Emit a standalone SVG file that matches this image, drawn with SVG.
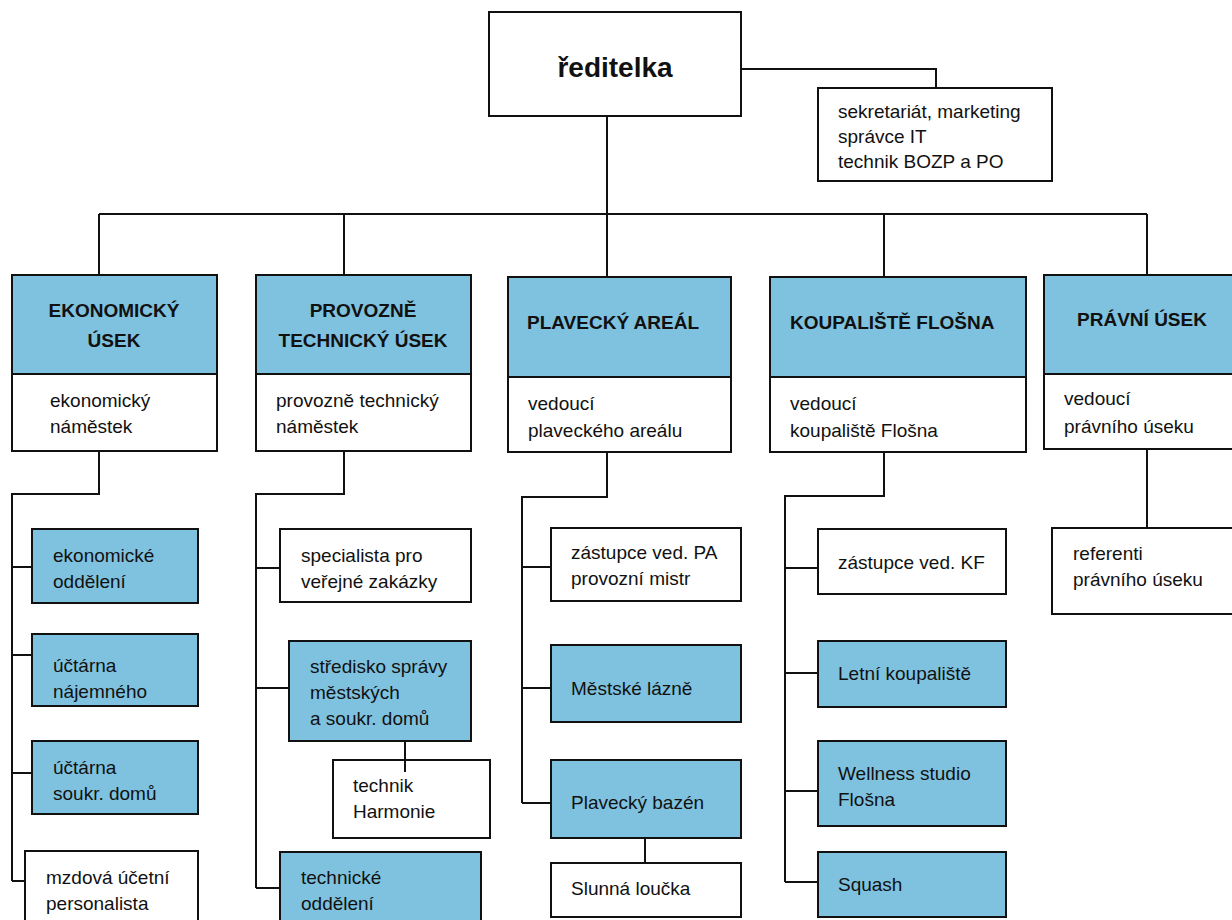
<svg xmlns="http://www.w3.org/2000/svg" width="1232" height="920" viewBox="0 0 1232 920">
<style>
.box{fill:#fff;stroke:#111;stroke-width:2}
.blue{fill:#7fc2df;stroke:#111;stroke-width:2}
.t{font-family:"Liberation Sans",Arial,sans-serif;font-size:19px;fill:#111}
.h{font-family:"Liberation Sans",Arial,sans-serif;font-size:19px;font-weight:bold;fill:#111}
.c{text-anchor:middle}
#connectors path{fill:none;stroke:#111;stroke-width:2}
</style>
<rect width="1232" height="920" fill="#fff"/>
<g id="reditelka">
<rect class="box" x="489" y="12" width="252" height="104"/>
<text class="h c" x="615" y="77" style="font-size:28px">ředitelka</text>
</g>
<g id="sekretariat">
<rect class="box" x="818" y="88" width="234" height="93"/>
<text class="t" x="838" y="118">sekretariát, marketing</text>
<text class="t" x="838" y="143">správce IT</text>
<text class="t" x="838" y="168">technik BOZP a PO</text>
</g>
<g id="ekonomicky-usek">
<rect class="blue" x="12" y="275" width="205" height="99"/>
<rect class="box" x="12" y="374" width="205" height="77"/>
<text class="h c" x="114" y="317">EKONOMICKÝ</text>
<text class="h c" x="114" y="347">ÚSEK</text>
<text class="t" x="50" y="407">ekonomický</text>
<text class="t" x="50" y="433">náměstek</text>
</g>
<g id="provozne-technicky-usek">
<rect class="blue" x="256" y="275" width="215" height="99"/>
<rect class="box" x="256" y="374" width="215" height="77"/>
<text class="h c" x="363" y="317">PROVOZNĚ</text>
<text class="h c" x="363" y="347">TECHNICKÝ ÚSEK</text>
<text class="t" x="276" y="407">provozně technický</text>
<text class="t" x="276" y="433">náměstek</text>
</g>
<g id="plavecky-areal">
<rect class="blue" x="508" y="277" width="223" height="100"/>
<rect class="box" x="508" y="377" width="223" height="75"/>
<text class="h" x="527" y="329">PLAVECKÝ AREÁL</text>
<text class="t" x="528" y="410">vedoucí</text>
<text class="t" x="528" y="437">plaveckého areálu</text>
</g>
<g id="koupaliste-flosna">
<rect class="blue" x="770" y="277" width="256" height="100"/>
<rect class="box" x="770" y="377" width="256" height="75"/>
<text class="h" x="790" y="329">KOUPALIŠTĚ FLOŠNA</text>
<text class="t" x="790" y="410">vedoucí</text>
<text class="t" x="790" y="437">koupaliště Flošna</text>
</g>
<g id="pravni-usek">
<rect class="blue" x="1044" y="275" width="200" height="99"/>
<rect class="box" x="1044" y="374" width="200" height="75"/>
<text class="h c" x="1142" y="326">PRÁVNÍ ÚSEK</text>
<text class="t" x="1064" y="405">vedoucí</text>
<text class="t" x="1064" y="433">právního úseku</text>
</g>
<g id="ekonomicke-oddeleni">
<rect class="blue" x="32" y="529" width="166" height="74"/>
<text class="t" x="53" y="562">ekonomické</text>
<text class="t" x="53" y="588">oddělení</text>
</g>
<g id="uctarna-najemneho">
<rect class="blue" x="32" y="634" width="166" height="72"/>
<text class="t" x="53" y="672">účtárna</text>
<text class="t" x="53" y="698">nájemného</text>
</g>
<g id="uctarna-soukr-domu">
<rect class="blue" x="32" y="741" width="166" height="73"/>
<text class="t" x="53" y="774">účtárna</text>
<text class="t" x="53" y="800">soukr. domů</text>
</g>
<g id="mzdova-ucetni">
<rect class="box" x="25" y="851" width="173" height="80"/>
<text class="t" x="46" y="884">mzdová účetní</text>
<text class="t" x="46" y="910">personalista</text>
</g>
<g id="specialista">
<rect class="box" x="280" y="529" width="191" height="73"/>
<text class="t" x="301" y="562">specialista pro</text>
<text class="t" x="301" y="588">veřejné zakázky</text>
</g>
<g id="stredisko-spravy">
<rect class="blue" x="289" y="641" width="182" height="100"/>
<text class="t" x="310" y="673">středisko správy</text>
<text class="t" x="310" y="699">městských</text>
<text class="t" x="310" y="725">a soukr. domů</text>
</g>
<g id="technik-harmonie">
<rect class="box" x="333" y="760" width="157" height="78"/>
<text class="t" x="353" y="792">technik</text>
<text class="t" x="353" y="818">Harmonie</text>
</g>
<g id="technicke-oddeleni">
<rect class="blue" x="280" y="852" width="201" height="80"/>
<text class="t" x="301" y="884">technické</text>
<text class="t" x="301" y="910">oddělení</text>
</g>
<g id="zastupce-pa">
<rect class="box" x="551" y="528" width="190" height="73"/>
<text class="t" x="571" y="559">zástupce ved. PA</text>
<text class="t" x="571" y="585">provozní mistr</text>
</g>
<g id="mestske-lazne">
<rect class="blue" x="551" y="645" width="190" height="77"/>
<text class="t" x="571" y="695">Městské lázně</text>
</g>
<g id="plavecky-bazen">
<rect class="blue" x="551" y="760" width="190" height="78"/>
<text class="t" x="571" y="809">Plavecký bazén</text>
</g>
<g id="slunna-loucka">
<rect class="box" x="551" y="863" width="190" height="54"/>
<text class="t" x="571" y="895">Slunná loučka</text>
</g>
<g id="zastupce-kf">
<rect class="box" x="818" y="529" width="188" height="65"/>
<text class="t" x="838" y="569">zástupce ved. KF</text>
</g>
<g id="letni-koupaliste">
<rect class="blue" x="818" y="641" width="188" height="66"/>
<text class="t" x="838" y="680">Letní koupaliště</text>
</g>
<g id="wellness">
<rect class="blue" x="818" y="741" width="188" height="85"/>
<text class="t" x="838" y="780">Wellness studio</text>
<text class="t" x="838" y="806">Flošna</text>
</g>
<g id="squash">
<rect class="blue" x="818" y="852" width="188" height="65"/>
<text class="t" x="838" y="891">Squash</text>
</g>
<g id="referenti">
<rect class="box" x="1052" y="528" width="190" height="86"/>
<text class="t" x="1073" y="560">referenti</text>
<text class="t" x="1073" y="586">právního úseku</text>
</g>
<g id="connectors">
<path d="M741 69 H936 V88"/>
<path d="M607 116 V214"/>
<path d="M99 214 H1147"/>
<path d="M99 214 V275 M344 214 V275 M607 214 V277 M884 214 V277 M1147 214 V274"/>
<path d="M99 451 V494 H12 V881 M12 567 H32 M12 655 H32 M12 773 H32 M12 881 H25"/>
<path d="M344 451 V494 H256 V888 M256 568 H280 M256 688 H289 M256 888 H280 M405 741 V772"/>
<path d="M607 452 V497 H522 V803 M522 567 H551 M522 688 H551 M522 803 H551 M645 838 V863"/>
<path d="M884 452 V496 H785 V882 M785 568 H818 M785 673 H818 M785 791 H818 M785 882 H818"/>
<path d="M1147 449 V528"/>
</g>
</svg>
